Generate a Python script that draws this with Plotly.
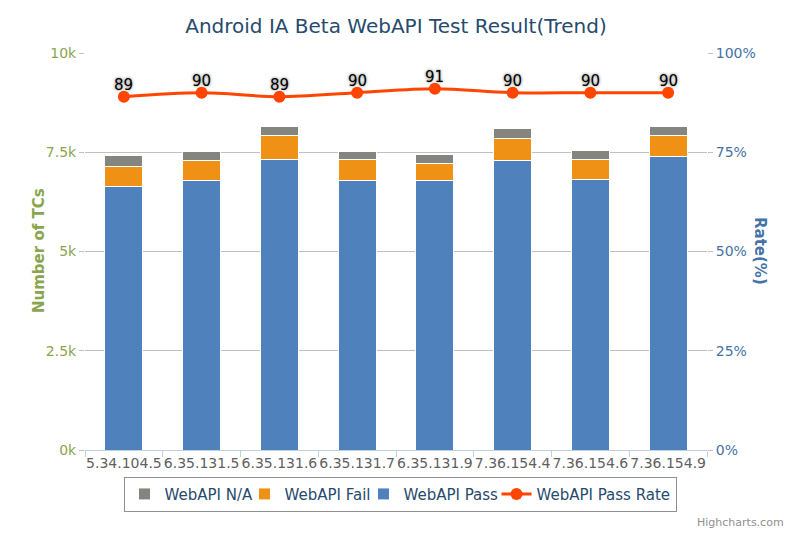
import plotly.graph_objects as go

categories = ["5.34.104.5", "6.35.131.5", "6.35.131.6", "6.35.131.7",
              "6.35.131.9", "7.36.154.4", "7.36.154.6", "7.36.154.9"]
webapi_pass = [6650, 6776, 7322, 6783, 6783, 7287, 6819, 7388]
webapi_fail = [496, 504, 605, 539, 439, 564, 503, 539]
webapi_na = [267, 234, 227, 192, 226, 235, 227, 227]
pass_rate = [89, 90, 89, 90, 91, 90, 90, 90]

left_ticks = [0, 2500, 5000, 7500, 10000]
left_labels = ["0k", "2.5k", "5k", "7.5k", "10k"]
right_ticks = [0, 25, 50, 75, 100]
right_labels = ["0%", "25%", "50%", "75%", "100%"]

FONT = "DejaVu Sans"
TITLE_C = "#274b6d"
GREEN = "#89A54E"
BLUE_AX = "#4572A7"

ML, MR, MT, MB = 85, 93, 53, 83
W, H = 800, 533
PW = W - ML - MR
PH = H - MT - MB


def px_x(px):
    return (px - ML) / PW


def px_y(py):
    return (H - MB - py) / PH


fig = go.Figure()
fig.add_trace(go.Bar(x=categories, y=webapi_pass, name="WebAPI Pass",
                     marker=dict(color="#4F81BD", line=dict(color="white", width=1)),
                     legendrank=3, legendwidth=88, hoverinfo="y"))
fig.add_trace(go.Bar(x=categories, y=webapi_fail, name="WebAPI Fail",
                     marker=dict(color="#EE9115", line=dict(color="white", width=1)),
                     legendrank=2, legendwidth=74, hoverinfo="y"))
fig.add_trace(go.Bar(x=categories, y=webapi_na, name="WebAPI N/A",
                     marker=dict(color="#858580", line=dict(color="white", width=1)),
                     legendrank=1, legendwidth=75, hoverinfo="y"))
fig.add_trace(go.Scatter(x=categories, y=pass_rate, name="WebAPI Pass Rate",
                         yaxis="y2", mode="lines+markers",
                         line=dict(color="#FF4500", width=3, shape="spline"),
                         marker=dict(color="#FF4500", size=12),
                         legendrank=4))

annotations = []
for c, v in zip(categories, pass_rate):
    annotations.append(dict(x=c, y=v, xref="x", yref="y2", text=str(v),
                            showarrow=False, yanchor="bottom", yshift=1,
                            font=dict(family=FONT, size=15, color="black",
                                      shadow="0px 0px 3px #666")))
annotations += [
    dict(text="<b>Rate(%)</b>", textangle=90, x=px_x(771), y=px_y(251),
         xref="paper", yref="paper", showarrow=False,
         font=dict(family=FONT, size=15, color=BLUE_AX)),
    dict(text="<b>Number of TCs</b>", textangle=-90, x=px_x(28), y=px_y(251),
         xref="paper", yref="paper", showarrow=False,
         font=dict(family=FONT, size=15, color=GREEN)),
    dict(text="Highcharts.com", x=px_x(786), y=px_y(522), xref="paper", yref="paper",
         xanchor="right", yanchor="middle", showarrow=False,
         font=dict(family=FONT, size=11, color="#909090")),
]

fig.update_layout(
    width=W, height=H,
    margin=dict(l=ML, r=MR, t=MT, b=MB, autoexpand=False),
    paper_bgcolor="white", plot_bgcolor="white",
    font=dict(family=FONT, size=14, color="#606060"),
    barmode="stack", bargap=0.51,
    title=dict(text="Android IA Beta WebAPI Test Result(Trend)",
               x=0.5, xref="paper", xanchor="center", y=1 - 26 / H, yanchor="middle",
               font=dict(family=FONT, size=20, color=TITLE_C)),
    xaxis=dict(type="category", range=[-0.5, 7.5], tickangle=0,
               showline=True, linecolor="#C0D0E0", linewidth=1,
               ticks="outside", tickson="boundaries", ticklen=6, tickcolor="#C0D0E0",
               showgrid=False, tickfont=dict(family=FONT, size=14, color="#606060")),
    yaxis=dict(range=[0, 10000], tickvals=left_ticks, ticktext=left_labels,
               showgrid=True, gridcolor="#C0C0C0", gridwidth=1, zeroline=False,
               ticks="outside", ticklen=5, tickcolor="#C0C0C0",
               tickfont=dict(family=FONT, size=14, color=GREEN)),
    yaxis2=dict(range=[0, 100], tickvals=right_ticks, ticktext=right_labels,
                overlaying="y", side="right", showgrid=False, zeroline=False,
                ticks="outside", ticklen=5, tickcolor="#C0C0C0",
                tickfont=dict(family=FONT, size=14, color=BLUE_AX)),
    legend=dict(orientation="h", x=0.5, xref="container", xanchor="center",
                y=0.04, yref="container", yanchor="bottom", traceorder="normal",
                bordercolor="#909090", borderwidth=1, bgcolor="white",
                font=dict(family=FONT, size=15, color=TITLE_C),
                itemwidth=30, tracegroupgap=0),
    showlegend=True,
    annotations=annotations,
)

fig.write_html("out.html")
